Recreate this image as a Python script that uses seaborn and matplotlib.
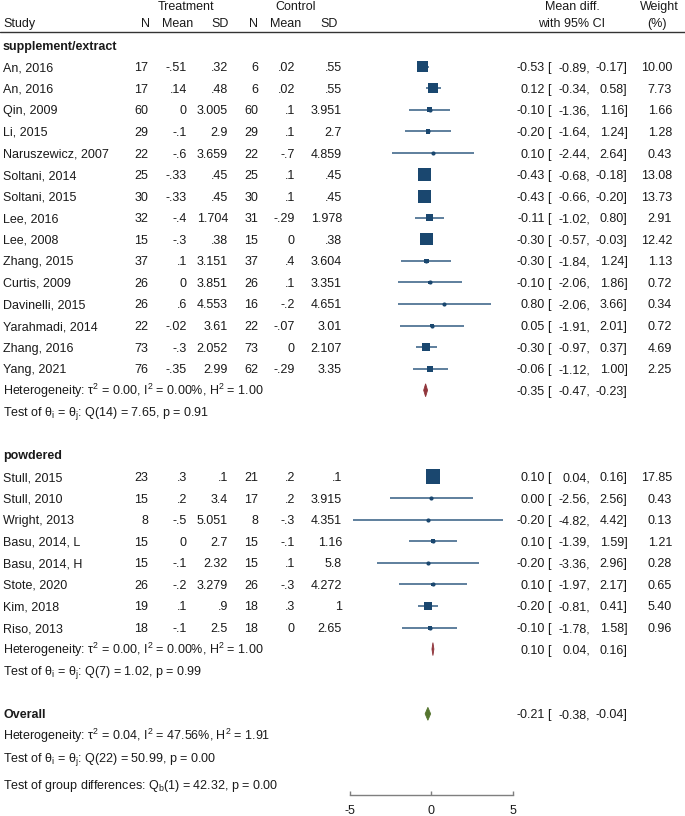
import numpy as np
import pandas as pd
import matplotlib
matplotlib.use("Agg")
import matplotlib.pyplot as plt
from matplotlib.transforms import blended_transform_factory
from matplotlib.patches import Polygon
import seaborn as sns

# ---------------- data ----------------
studies1 = ["An, 2016", "An, 2016", "Qin, 2009", "Li, 2015", "Naruszewicz, 2007",
            "Soltani, 2014", "Soltani, 2015", "Lee, 2016", "Lee, 2008", "Zhang, 2015",
            "Curtis, 2009", "Davinelli, 2015", "Yarahmadi, 2014", "Zhang, 2016", "Yang, 2021"]
nt1 = ["17", "17", "60", "29", "22", "25", "30", "32", "15", "37", "26", "26", "22", "73", "76"]
mt1 = ["-.51", ".14", "0", "-.1", "-.6", "-.33", "-.33", "-.4", "-.3", ".1", "0", ".6", "-.02", "-.3", "-.35"]
sdt1 = [".32", ".48", "3.005", "2.9", "3.659", ".45", ".45", "1.704", ".38", "3.151", "3.851", "4.553", "3.61", "2.052", "2.99"]
nc1 = ["6", "6", "60", "29", "22", "25", "30", "31", "15", "37", "26", "16", "22", "73", "62"]
mc1 = [".02", ".02", ".1", ".1", "-.7", ".1", ".1", "-.29", "0", ".4", ".1", "-.2", "-.07", "0", "-.29"]
sdc1 = [".55", ".55", "3.951", "2.7", "4.859", ".45", ".45", "1.978", ".38", "3.604", "3.351", "4.651", "3.01", "2.107", "3.35"]
est1 = [-0.53, 0.12, -0.10, -0.20, 0.10, -0.43, -0.43, -0.11, -0.30, -0.30, -0.10, 0.80, 0.05, -0.30, -0.06]
lo1 = [-0.89, -0.34, -1.36, -1.64, -2.44, -0.68, -0.66, -1.02, -0.57, -1.84, -2.06, -2.06, -1.91, -0.97, -1.12]
hi1 = [-0.17, 0.58, 1.16, 1.24, 2.64, -0.18, -0.20, 0.80, -0.03, 1.24, 1.86, 3.66, 2.01, 0.37, 1.00]
w1 = [10.00, 7.73, 1.66, 1.28, 0.43, 13.08, 13.73, 2.91, 12.42, 1.13, 0.72, 0.34, 0.72, 4.69, 2.25]

studies2 = ["Stull, 2015", "Stull, 2010", "Wright, 2013", "Basu, 2014, L", "Basu, 2014, H",
            "Stote, 2020", "Kim, 2018", "Riso, 2013"]
nt2 = ["23", "15", "8", "15", "15", "26", "19", "18"]
mt2 = [".3", ".2", "-.5", "0", "-.1", "-.2", ".1", "-.1"]
sdt2 = [".1", "3.4", "5.051", "2.7", "2.32", "3.279", ".9", "2.5"]
nc2 = ["21", "17", "8", "15", "15", "26", "18", "18"]
mc2 = [".2", ".2", "-.3", "-.1", ".1", "-.3", ".3", "0"]
sdc2 = [".1", "3.915", "4.351", "1.16", "5.8", "4.272", "1", "2.65"]
est2 = [0.10, 0.00, -0.20, 0.10, -0.20, 0.10, -0.20, -0.10]
lo2 = [0.04, -2.56, -4.82, -1.39, -3.36, -1.97, -0.81, -1.78]
hi2 = [0.16, 2.56, 4.42, 1.59, 2.96, 2.17, 0.41, 1.58]
w2 = [17.85, 0.43, 0.13, 1.21, 0.28, 0.65, 5.40, 0.96]

sub_names = ["supplement/extract", "powdered", "Overall"]
sub_est = [-0.35, 0.10, -0.21]
sub_lo = [-0.47, 0.04, -0.38]
sub_hi = [-0.23, 0.16, -0.04]
het_text = [
    "Heterogeneity: τ$^\\mathregular{2}$ = 0.00, I$^\\mathregular{2}$ = 0.00%, H$^\\mathregular{2}$ = 1.00",
    "Heterogeneity: τ$^\\mathregular{2}$ = 0.00, I$^\\mathregular{2}$ = 0.00%, H$^\\mathregular{2}$ = 1.00",
    "Heterogeneity: τ$^\\mathregular{2}$ = 0.04, I$^\\mathregular{2}$ = 47.56%, H$^\\mathregular{2}$ = 1.91",
]
test_text = [
    "Test of θ$_\\mathregular{i}$ = θ$_\\mathregular{j}$: Q(14) = 7.65, p = 0.91",
    "Test of θ$_\\mathregular{i}$ = θ$_\\mathregular{j}$: Q(7) = 1.02, p = 0.99",
    "Test of θ$_\\mathregular{i}$ = θ$_\\mathregular{j}$: Q(22) = 50.99, p = 0.00",
]
group_diff_text = "Test of group differences: Q$_\\mathregular{b}$(1) = 42.32, p = 0.00"
xticks = [-5, 0, 5]

# ---------------- layout ----------------
W, H = 685, 816
X0, XS = 431.3, 16.27      # pixel of x=0, pixels per unit
Y0, YS = 66.7, 21.57       # pixel of first study row, pixels per row
AX_BOTTOM_PX = 795

sns.set_theme(style="white")
plt.rcParams["font.family"] = ["Liberation Sans", "DejaVu Sans"]
plt.rcParams["mathtext.default"] = "regular"

fig = plt.figure(figsize=(W / 100, H / 100), dpi=100)
ax = fig.add_axes([0, (H - AX_BOTTOM_PX) / H, 1, AX_BOTTOM_PX / H])
ax.set_xlim((0 - X0) / XS, (W - X0) / XS)
ax.set_ylim((AX_BOTTOM_PX - Y0) / YS, (0 - Y0) / YS)
ax.patch.set_alpha(0)

tr = blended_transform_factory(fig.transFigure, ax.transData)
FS = 9
TXT = "#1a1a1a"
BASE = 0.21  # baseline offset in rows


def put(px, row, s, ha="left", bold=False):
    ax.text(px / W, row + BASE, s, transform=tr, ha=ha, va="baseline",
            fontsize=FS, color=TXT, fontweight="bold" if bold else "normal")


# headers
put(186, -2.86, "Treatment", ha="center")
put(296, -2.86, "Control", ha="center")
put(572, -2.86, "Mean diff.", ha="center")
put(659, -2.86, "Weight", ha="center")
put(3, -2.03, "Study")
put(145, -2.03, "N", ha="center")
put(178, -2.03, "Mean", ha="center")
put(220, -2.03, "SD", ha="center")
put(253, -2.03, "N", ha="center")
put(286, -2.03, "Mean", ha="center")
put(329, -2.03, "SD", ha="center")
put(572, -2.03, "with 95% CI", ha="center")
put(657, -2.03, "(%)", ha="center")
ax.plot([0, 1], [-1.59, -1.59], transform=tr, color="#333333", lw=1.0, clip_on=False)

cols_px = [148, 187, 228, 258, 295, 342]


def ci_text(row, e, l, h, w=None):
    put(545, row, f"{e:.2f}", ha="right")
    put(547, row, "[")
    put(590, row, f"{l:.2f},", ha="right")
    put(627.5, row, f"{h:.2f}]", ha="right")
    if w is not None:
        put(672, row, f"{w:.2f}", ha="right")


groups = [
    (studies1, nt1, mt1, sdt1, nc1, mc1, sdc1, est1, lo1, hi1, w1, 0),
    (studies2, nt2, mt2, sdt2, nc2, mc2, sdc2, est2, lo2, hi2, w2, 19),
]
frames = []
for gi, (st, nt, mt, sdt, nc, mc, sdc, es, lo, hi, ww, r0) in enumerate(groups):
    put(3, r0 - 1, sub_names[gi], bold=True)
    for i in range(len(st)):
        r = r0 + i
        put(3, r, st[i])
        for px, v in zip(cols_px, [nt[i], mt[i], sdt[i], nc[i], mc[i], sdc[i]]):
            put(px, r, v, ha="right")
        ci_text(r, es[i], lo[i], hi[i], ww[i])
    frames.append(pd.DataFrame({"study": st, "est": es, "lo": lo, "hi": hi,
                                "weight": ww, "row": np.arange(r0, r0 + len(st))}))
    hr = r0 + len(st)
    put(3, hr, het_text[gi])
    put(3, hr + 1, test_text[gi])
    ci_text(hr, sub_est[gi], sub_lo[gi], sub_hi[gi])

df = pd.concat(frames, ignore_index=True)

# overall
put(3, 30, sub_names[2], bold=True)
put(3, 31, het_text[2])
put(3, 32, test_text[2])
put(3, 33.27, group_diff_text)
ci_text(30, sub_est[2], sub_lo[2], sub_hi[2])

# ---------------- forest marks ----------------
NAVY = "#1a476f"
ax.hlines(df["row"], df["lo"], df["hi"], color="#335d83", lw=1.1, zorder=2)

size_map = {w: (4.1 * w ** 0.44 * 0.72) ** 2 for w in df["weight"].unique()}
sns.scatterplot(data=df, x="est", y="row", size="weight", sizes=size_map,
                marker="s", color=NAVY, linewidth=0, legend=False, ax=ax, zorder=3)
sns.scatterplot(data=df, x="est", y="row", marker="o", s=9, color=NAVY,
                linewidth=0, legend=False, ax=ax, zorder=4)

diamond_rows = [15, 27, 30]
diamond_cols = ["#90353b", "#90353b", "#55752f"]
for r, e, l, h, c in zip(diamond_rows, sub_est, sub_lo, sub_hi, diamond_cols):
    ax.add_patch(Polygon([[l, r], [e, r - 0.3], [h, r], [e, r + 0.3]],
                         closed=True, facecolor=c, edgecolor=c, lw=0.6, zorder=3))

# ---------------- axis ----------------
for s in ["top", "left", "right"]:
    ax.spines[s].set_visible(False)
ax.spines["bottom"].set_bounds(-5, 5)
ax.spines["bottom"].set_color("#7f7f7f")
ax.spines["bottom"].set_linewidth(1.0)
ax.set_xticks(xticks)
ax.set_xticklabels([str(t) for t in xticks])
ax.tick_params(axis="x", direction="in", length=3, width=1.0, color="#7f7f7f",
               labelsize=FS, labelcolor=TXT, pad=7.5, bottom=True)
ax.set_yticks([])
ax.set_xlabel("")
ax.set_ylabel("")
ax.grid(False)

fig.savefig("out.png", dpi=100)
